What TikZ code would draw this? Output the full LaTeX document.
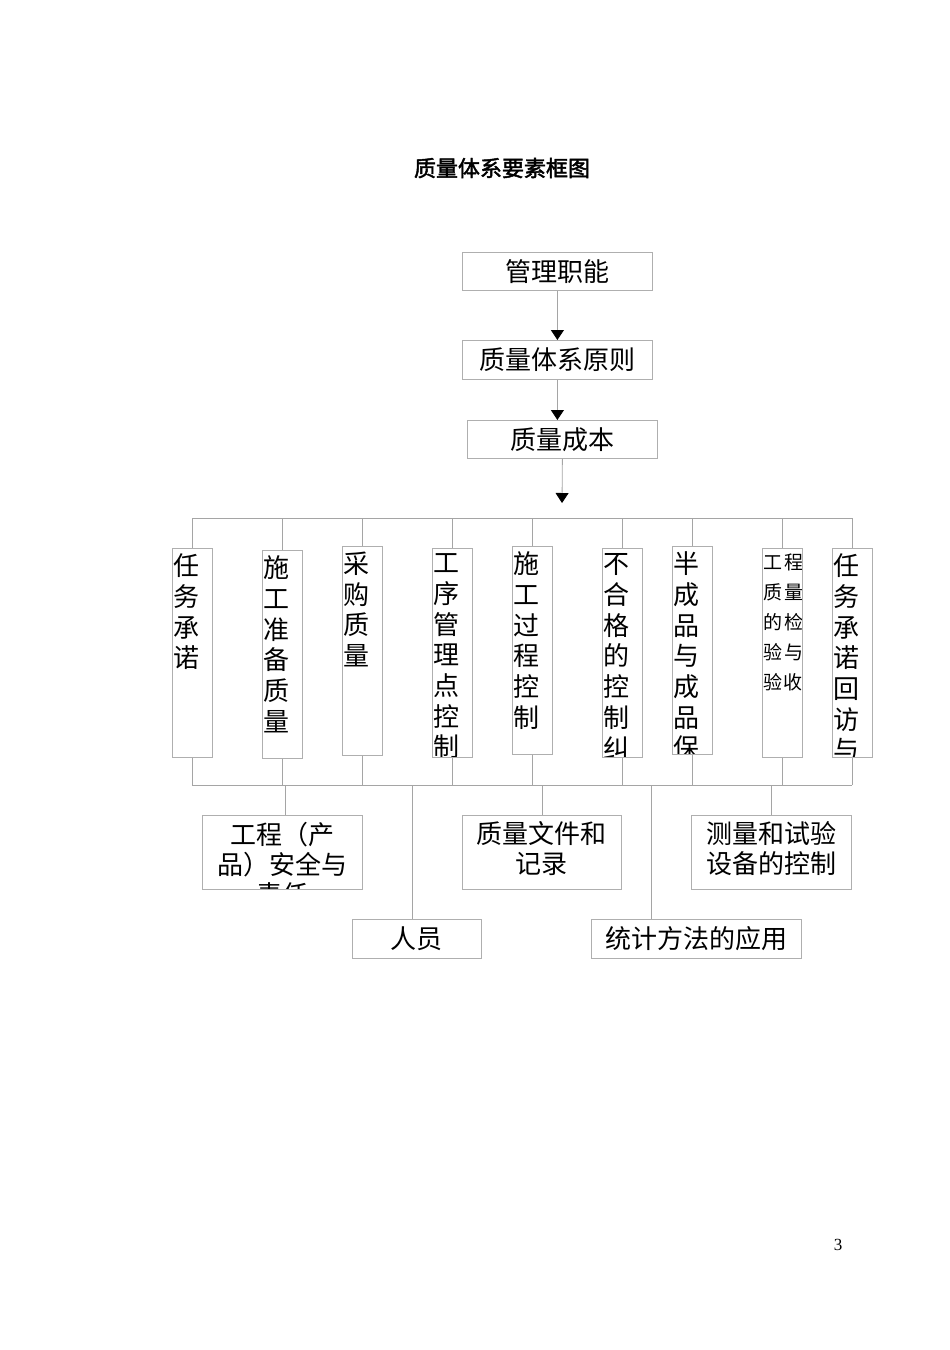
\documentclass[tikz,border=0pt]{standalone}
\usepackage{fontspec}
\usepackage{xcolor}
\usepackage{tikz}
\usetikzlibrary{arrows.meta}

\newfontfamily\cjk{Noto Sans CJK SC}
\newfontfamily\cjkb[FakeBold=2]{Noto Sans CJK SC}
\newfontfamily\tms{Liberation Serif}
\newcommand\hfont{\cjk\fontsize{26}{30}\selectfont}
\newcommand\vfont{\cjk\fontsize{26}{30.7}\selectfont}
\newcommand\sfont{\cjk\fontsize{19}{30}\selectfont}

\definecolor{boxgray}{RGB}{175,175,175}
\definecolor{linegray}{RGB}{165,165,165}

\tikzset{
  box/.style={draw=boxgray, line width=0.8pt, inner sep=0pt, anchor=north west},
  vtxt/.style 2 args={path picture={\node[draw=none, anchor=north west, minimum width=0pt, minimum height=0pt, inner xsep=1pt, inner ysep=5pt, align=left, font=#1] at (path picture bounding box.north west) {#2};}},
  htxt/.style={path picture={\node[draw=none, anchor=north, minimum width=0pt, minimum height=0pt, inner xsep=0pt, inner ysep=6pt, align=center, font=\hfont] at (path picture bounding box.north) {#1};}},
  link/.style={draw=linegray, line width=0.8pt},
  arr/.style={draw=linegray, line width=0.8pt, -{Triangle[width=13pt,length=10pt,color=black]}},
}

\begin{document}
\begin{tikzpicture}[x=1pt,y=1pt,yscale=-1,xscale=1]
\useasboundingbox (0,0) rectangle (950,1350);

% Text Node
\node (ttl) at (502,168) {\cjkb\fontsize{22}{26}\selectfont 质量体系要素框图};
% Text Node
\node (pg) at (838,1245) {\tms\fontsize{17}{20}\selectfont 3};

% top chain
\node[box, minimum width=190pt, minimum height=38pt, font=\hfont] (b1) at (462,252) {管理职能};
\node[box, minimum width=190pt, minimum height=39pt, font=\hfont] (b2) at (462,340) {质量体系原则};
\node[box, minimum width=190pt, minimum height=38pt, font=\hfont] (b3) at (467,420) {质量成本};
\coordinate (a3) at (562,503);

%Straight Lines
\draw[arr] (b1.south) -- (b2.north);
\draw[arr] (b2.south) -- (b2.south |- b3.north);
\draw[arr] (b3.south) -- (a3);

% vertical boxes
\node[box, minimum width=40pt, minimum height=209pt, vtxt={\vfont}{任\\务\\承\\诺}] (t1) at (172,548) {};
\node[box, minimum width=40pt, minimum height=208pt, vtxt={\vfont}{施\\工\\准\\备\\质\\量}] (t2) at (262,550) {};
\node[box, minimum width=40pt, minimum height=209pt, vtxt={\vfont}{采\\购\\质\\量}] (t3) at (342,546) {};
\node[box, minimum width=40pt, minimum height=209pt, vtxt={\vfont}{工\\序\\管\\理\\点\\控\\制}] (t4) at (432,548) {};
\node[box, minimum width=40pt, minimum height=208pt, vtxt={\vfont}{施\\工\\过\\程\\控\\制}] (t5) at (512,546) {};
\node[box, minimum width=40pt, minimum height=209pt, vtxt={\vfont}{不\\合\\格\\的\\控\\制\\纠\\正}] (t6) at (602,548) {};
\node[box, minimum width=40pt, minimum height=208pt, vtxt={\vfont}{半\\成\\品\\与\\成\\品\\保\\护}] (t7) at (672,546) {};
\node[box, minimum width=40pt, minimum height=209pt, vtxt={\sfont}{\vspace{2pt}工\kern2pt 程\\质\kern2pt 量\\的\kern2pt 检\\验\kern2pt 与\\验\kern1pt 收}] (t8) at (762,548) {};
\node[box, minimum width=40pt, minimum height=209pt, vtxt={\vfont}{任\\务\\承\\诺\\回\\访\\与\\保\\修}] (t9) at (832,548) {};

% buses
\coordinate (tl) at (192,518);
\coordinate (tr) at (852,518);
\coordinate (bl) at (192,785);
\coordinate (br) at (852,785);
\draw[link] (tl) -- (tr);
\draw[link] (bl) -- (br);
\foreach \n in {t1,t2,t3,t4,t5,t6,t7,t8,t9}{
  \draw[link] (\n.north) -- (\n.north |- tl);
  \draw[link] (\n.south) -- (\n.south |- bl);
}

% bottom boxes
\node[box, minimum width=160pt, minimum height=74pt, htxt={工程（产\\品）安全与\\责任}] (c1) at (202,815) {};
\node[box, minimum width=159pt, minimum height=74pt, htxt={质量文件和\\记录}] (c2) at (462,815) {};
\node[box, minimum width=160pt, minimum height=74pt, htxt={测量和试验\\设备的控制}] (c3) at (691,815) {};
\node[box, minimum width=129pt, minimum height=39pt, font=\hfont] (c4) at (352,919) {人员};
\node[box, minimum width=210pt, minimum height=39pt, font=\hfont] (c5) at (591,919) {统计方法的应用};

\coordinate (s1) at (285,785);
\coordinate (s2) at (542,785);
\coordinate (s3) at (771,785);
\coordinate (s4) at (412,785);
\coordinate (s5) at (651,785);
\draw[link] (s1) -- (s1 |- c1.north);
\draw[link] (s2) -- (s2 |- c2.north);
\draw[link] (s3) -- (s3 |- c3.north);
\draw[link] (s4) -- (s4 |- c4.north);
\draw[link] (s5) -- (s5 |- c5.north);

\end{tikzpicture}
\end{document}
